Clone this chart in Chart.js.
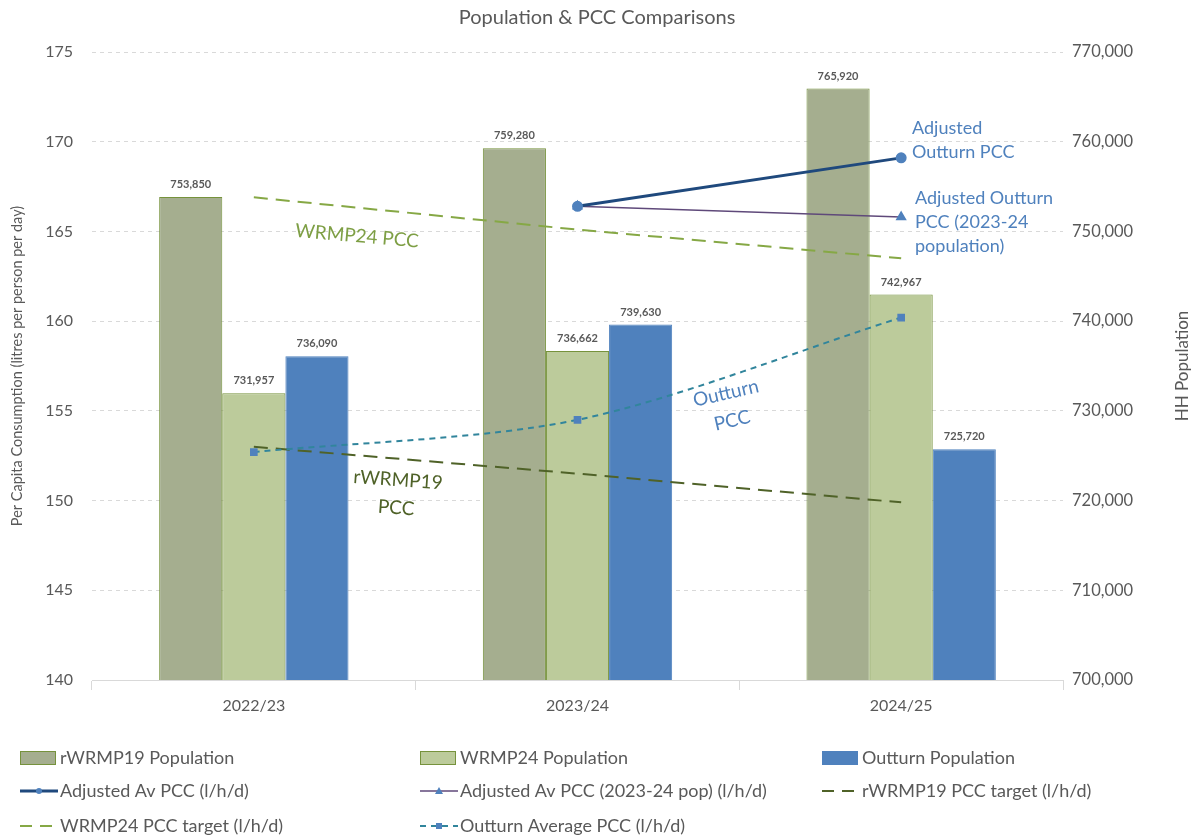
<!DOCTYPE html>
<html>
<head>
<meta charset="utf-8">
<script src="https://cdn.jsdelivr.net/npm/chart.js@4.4.1/dist/chart.umd.min.js"></script>
<style>
  html, body { margin: 0; padding: 0; background: #ffffff; }
  #wrap { width: 1197px; height: 838px; position: relative; }
</style>
</head>
<body>
<div id="wrap"><canvas id="c" width="1197" height="838"></canvas></div>
<script>
// ---------- DATA ----------
const categories = ['2022/23', '2023/24', '2024/25'];
const rwrmp19Population = [753850, 759280, 765920];
const wrmp24Population = [731957, 736662, 742967];
const outturnPopulation = [736090, 739630, 725720];
const adjustedAvPcc = [null, 166.4, 169.1];
const adjustedAvPcc2324 = [null, 166.4, 165.8];
const rwrmp19PccTarget = [153.0, 151.5, 149.9];
const wrmp24PccTarget = [166.9, 165.1, 163.5];
const outturnAvgPcc = [152.7, 154.5, 160.2];
const leftTicks = [140, 145, 150, 155, 160, 165, 170, 175];
const rightTicks = [700000, 710000, 720000, 730000, 740000, 750000, 760000, 770000];

const FONT = 'Lato, "Open Sans", sans-serif';
const GREY = '#595959';

const fmt = v => Number(v).toLocaleString('en-US');

const barDataLabels = {
  id: 'barDataLabels',
  afterDatasetsDraw(chart) {
    const ctx = chart.ctx;
    ctx.save();
    ctx.font = 'bold 11px ' + FONT;
    ctx.fillStyle = GREY;
    ctx.textAlign = 'center';
    ctx.textBaseline = 'bottom';
    chart.data.datasets.forEach((ds, i) => {
      if (ds.type !== 'bar') return;
      const meta = chart.getDatasetMeta(i);
      meta.data.forEach((el, j) => {
        ctx.fillText(fmt(ds.data[j]), el.x, el.y - 7);
      });
    });
    ctx.restore();
  }
};

const annotations = {
  id: 'annotations',
  afterDraw(chart) {
    const ctx = chart.ctx;
    const ca = chart.chartArea;
    ctx.save();
    // chart title
    ctx.font = '20px ' + FONT;
    ctx.fillStyle = GREY;
    ctx.textAlign = 'center';
    ctx.textBaseline = 'middle';
    ctx.fillText('Population & PCC Comparisons', 597, 18);

    // right axis title (reads bottom to top)
    ctx.save();
    ctx.translate(1183, (ca.top + ca.bottom) / 2);
    ctx.rotate(-Math.PI / 2);
    ctx.font = '17px ' + FONT;
    ctx.fillStyle = GREY;
    ctx.fillText('HH Population', 0, 0);
    ctx.restore();

    const rotText = (lines, cx, cy, angDeg, color, align, lh, size) => {
      ctx.save();
      ctx.translate(cx, cy);
      ctx.rotate(angDeg * Math.PI / 180);
      ctx.font = (size || 18) + 'px ' + FONT;
      ctx.fillStyle = color;
      ctx.textAlign = align;
      ctx.textBaseline = 'middle';
      const n = lines.length;
      lines.forEach((t, k) => ctx.fillText(t, 0, (k - (n - 1) / 2) * lh));
      ctx.restore();
    };
    rotText(['WRMP24 PCC'], 357, 236, 5, '#7E9F45', 'center', 24, 19);
    rotText(['rWRMP19', 'PCC'], 397, 494, 4, '#4F6228', 'center', 28, 19);
    rotText(['Outturn', 'PCC'], 729, 407, -13, '#4F81BD', 'center', 28, 19);
    rotText(['Adjusted', 'Outturn PCC'], 912, 140, 0, '#4F81BD', 'left', 24);
    rotText(['Adjusted Outturn', 'PCC (2023-24', 'population)'], 915, 222, 0, '#4F81BD', 'left', 24);

    // legend
    const cols = [20, 420, 822];
    const rows = [758, 791, 826];
    const items = [
      {t: 'rWRMP19 Population', kind: 'bar', fill: '#A5AE8F', stroke: '#76923C'},
      {t: 'WRMP24 Population', kind: 'bar', fill: '#BCCB9B', stroke: '#76923C'},
      {t: 'Outturn Population', kind: 'bar', fill: '#4F81BD', stroke: '#4F81BD'},
      {t: 'Adjusted Av PCC (l/h/d)', kind: 'line', color: '#1F497D', w: 3, dash: [], marker: 'circle'},
      {t: 'Adjusted Av PCC (2023-24 pop) (l/h/d)', kind: 'line', color: '#5F497A', w: 1.5, dash: [], marker: 'triangle'},
      {t: 'rWRMP19 PCC target (l/h/d)', kind: 'line', color: '#4F6228', w: 2, dash: [12, 8], marker: null},
      {t: 'WRMP24 PCC target (l/h/d)', kind: 'line', color: '#86A845', w: 2, dash: [12, 8], marker: null},
      {t: 'Outturn Average PCC (l/h/d)', kind: 'line', color: '#31859C', w: 2, dash: [6, 5], marker: 'rect'}
    ];
    items.forEach((it, k) => {
      const x = cols[k % 3], y = rows[Math.floor(k / 3)];
      ctx.save();
      if (it.kind === 'bar') {
        ctx.fillStyle = it.fill;
        ctx.strokeStyle = it.stroke;
        ctx.lineWidth = 1;
        ctx.fillRect(x, y - 7, 36, 14);
        ctx.strokeRect(x + 0.5, y - 6.5, 35, 13);
      } else {
        ctx.strokeStyle = it.color;
        ctx.lineWidth = it.w;
        ctx.setLineDash(it.dash);
        ctx.beginPath();
        ctx.moveTo(x, y);
        ctx.lineTo(x + 38, y);
        ctx.stroke();
        ctx.setLineDash([]);
        ctx.fillStyle = '#4F81BD';
        const mx = x + 19;
        if (it.marker === 'circle') {
          ctx.beginPath(); ctx.arc(mx, y, 3, 0, Math.PI * 2); ctx.fill();
        } else if (it.marker === 'triangle') {
          ctx.beginPath(); ctx.moveTo(mx, y - 4); ctx.lineTo(mx + 4, y + 3); ctx.lineTo(mx - 4, y + 3); ctx.closePath(); ctx.fill();
        } else if (it.marker === 'rect') {
          ctx.fillRect(mx - 3, y - 3, 6, 6);
        }
      }
      ctx.font = '18px ' + FONT;
      ctx.fillStyle = GREY;
      ctx.textAlign = 'left';
      ctx.textBaseline = 'middle';
      ctx.fillText(it.t, x + 40, y);
      ctx.restore();
    });
    ctx.restore();
  }
};

const barCommon = { type: 'bar', yAxisID: 'y1', barPercentage: 1.0, categoryPercentage: 0.585, borderWidth: 1, order: 2 };

const ctx = document.getElementById('c').getContext('2d');
new Chart(ctx, {
  data: {
    labels: categories,
    datasets: [
      Object.assign({}, barCommon, { label: 'rWRMP19 Population', data: rwrmp19Population, backgroundColor: '#A5AE8F', borderColor: '#76923C' }),
      Object.assign({}, barCommon, { label: 'WRMP24 Population', data: wrmp24Population, backgroundColor: '#BCCB9B', borderColor: '#76923C' }),
      Object.assign({}, barCommon, { label: 'Outturn Population', data: outturnPopulation, backgroundColor: '#4F81BD', borderColor: '#4F81BD' }),
      { type: 'line', label: 'Adjusted Av PCC (l/h/d)', data: adjustedAvPcc, yAxisID: 'y', borderColor: '#1F497D', borderWidth: 3,
        pointStyle: 'circle', pointRadius: 4, pointBackgroundColor: '#4F81BD', pointBorderColor: '#4F81BD', order: 0 },
      { type: 'line', label: 'Adjusted Av PCC (2023-24 pop) (l/h/d)', data: adjustedAvPcc2324, yAxisID: 'y', borderColor: '#5F497A', borderWidth: 1.5,
        pointStyle: 'triangle', pointRadius: 5, pointBackgroundColor: '#4F81BD', pointBorderColor: '#4F81BD', order: 0 },
      { type: 'line', label: 'rWRMP19 PCC target (l/h/d)', data: rwrmp19PccTarget, yAxisID: 'y', borderColor: '#4F6228', borderWidth: 2,
        borderDash: [14, 8], pointRadius: 0, order: 1 },
      { type: 'line', label: 'WRMP24 PCC target (l/h/d)', data: wrmp24PccTarget, yAxisID: 'y', borderColor: '#86A845', borderWidth: 2,
        borderDash: [14, 8], pointRadius: 0, order: 1 },
      { type: 'line', label: 'Outturn Average PCC (l/h/d)', data: outturnAvgPcc, yAxisID: 'y', borderColor: '#31859C', borderWidth: 2,
        borderDash: [6, 5], tension: 0.3, pointStyle: 'rect', pointRadius: 4, pointBackgroundColor: '#4F81BD', pointBorderColor: '#4F81BD', order: 0 }
    ]
  },
  options: {
    responsive: false,
    animation: false,
    layout: { padding: { top: 52, bottom: 108, left: 0, right: 0 } },
    plugins: {
      legend: { display: false },
      title: { display: false },
      tooltip: { enabled: false }
    },
    scales: {
      x: {
        type: 'category',
        offset: true,
        grid: { display: true, offset: true, drawOnChartArea: false, drawTicks: true, tickLength: 10, color: '#D9D9D9' },
        border: { display: true, color: '#D9D9D9' },
        ticks: { color: GREY, font: { family: FONT, size: 16 }, padding: 6 },
        afterFit(s) { s.height = 50; }
      },
      y: {
        position: 'left',
        min: 140, max: 175,
        afterBuildTicks(s) { s.ticks = leftTicks.map(v => ({ value: v })); },
        ticks: { color: GREY, font: { family: FONT, size: 16 }, padding: 19 },
        grid: { color: '#D9D9D9', drawTicks: false, lineWidth: 1 },
        border: { display: false, dash: [4, 4] },
        title: { display: true, text: 'Per Capita Consumption (litres per person per day)', color: GREY, font: { family: FONT, size: 14.5 }, padding: { top: 9, bottom: 0 } },
        afterFit(s) { s.width = 92; }
      },
      y1: {
        position: 'right',
        min: 700000, max: 770000,
        afterBuildTicks(s) { s.ticks = rightTicks.map(v => ({ value: v })); },
        ticks: { color: GREY, font: { family: FONT, size: 16.5 }, padding: 9, callback: v => fmt(v) },
        grid: { drawOnChartArea: false, drawTicks: false },
        border: { display: false },
        afterFit(s) { s.width = 134; }
      }
    }
  },
  plugins: [barDataLabels, annotations]
});
</script>
</body>
</html>
